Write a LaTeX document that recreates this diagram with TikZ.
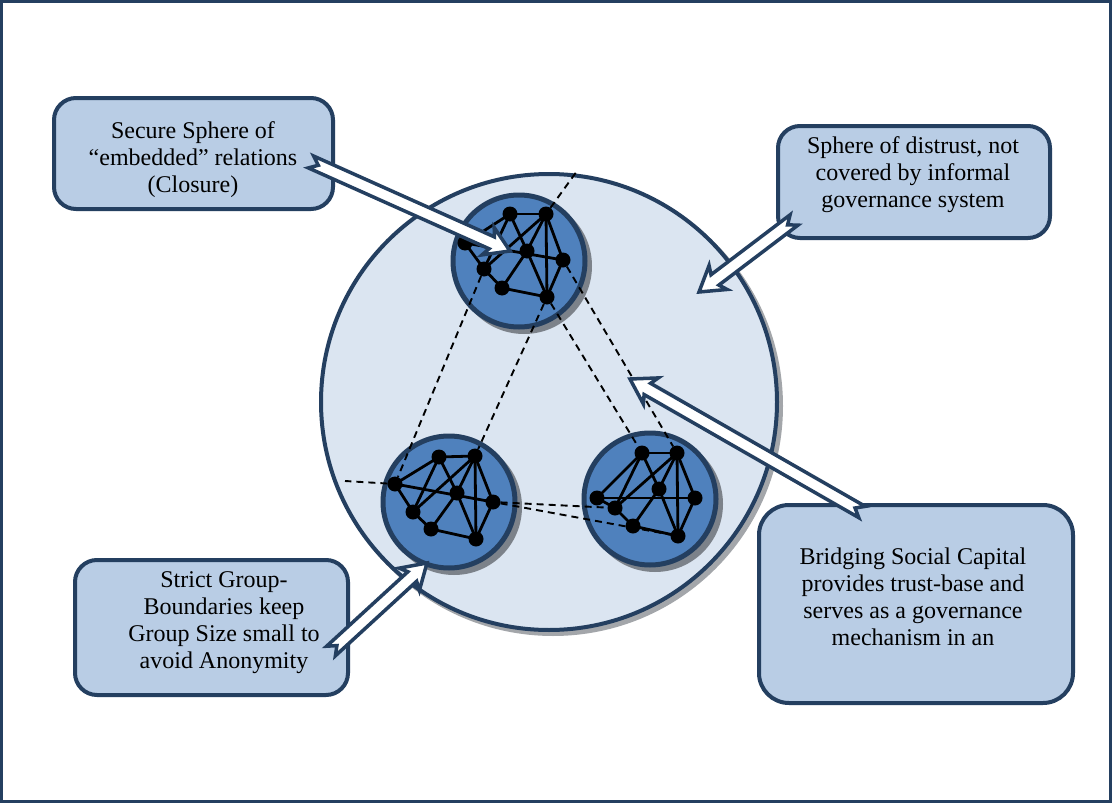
\documentclass[tikz,border=0pt]{standalone}
\usepackage{fontspec}
\setmainfont{Liberation Serif}
\usetikzlibrary{calc}
\definecolor{navy}{HTML}{243F60}
\definecolor{boxfill}{HTML}{B9CDE5}
\definecolor{bigfill}{HTML}{DBE5F1}
\definecolor{smallfill}{HTML}{4F81BD}
\definecolor{shadowgray}{HTML}{7C828A}
\definecolor{bigshadow}{HTML}{A3A6AA}
\newcommand{\notcharrow}[2]{%
  \path ($(#2)!20pt!(#1)$) coordinate (J) ($(#2)!24pt!(#1)$) coordinate (K);
  \draw[blockarrow] ($(#1)!6.5pt!90:(#2)$) -- ($(J)!6.5pt!90:(#2)$) -- ($(K)!15pt!90:(#2)$) -- (#2)
    -- ($(K)!15pt!-90:(#2)$) -- ($(J)!6.5pt!-90:(#2)$) -- ($(#1)!6.5pt!-90:(#2)$) -- ($(#1)!8pt!(#2)$) -- cycle;}
\begin{document}
\begin{tikzpicture}[x=1pt,y=-1pt,
  box/.style={draw=navy, line width=4pt, fill=boxfill, rounded corners=22pt, inner sep=0pt},
  txt/.style={align=center, font=\fontsize{24}{27}\selectfont, inner sep=0pt},
  dot/.style={circle, fill=black, inner sep=0pt, minimum size=15pt},
  edge/.style={line width=2.8pt, black},
  link/.style={line width=1.9pt, black, dash pattern=on 7pt off 5pt},
  blockarrow/.style={draw=navy, fill=white, line width=3.5pt, line join=miter},
  sphere/.style={draw=navy, line width=5pt, fill=smallfill},
]
\useasboundingbox (0,0) rectangle (1112,803);
\fill[white] (0,0) rectangle (1112,803);
\draw[navy, line width=3pt] (1.5,1.5) rectangle (1110.5,801.5);

% big sphere
\fill[bigshadow] (553,406) circle (230);
\draw[navy, line width=4pt, fill=bigfill] (549,402) circle (228);

% small spheres
\foreach \cx/\cy in {519/261, 449/502, 650/499}{
  \fill[shadowgray] (\cx+5,\cy+5) circle (68);
  \draw[sphere] (\cx,\cy) circle (66);
}

% network nodes
\node[dot] (ta) at (510,214) {};
\node[dot] (tb) at (546,214) {};
\node[dot] (tc) at (465,243) {};
\node[dot] (td) at (527,251) {};
\node[dot] (te) at (563,260) {};
\node[dot] (tf) at (484,269) {};
\node[dot] (tg) at (502,288) {};
\node[dot] (th) at (547,297) {};

\node[dot] (la) at (439,457) {};
\node[dot] (lb) at (475,456) {};
\node[dot] (lc) at (395,484) {};
\node[dot] (ld) at (457,493) {};
\node[dot] (le) at (493,502) {};
\node[dot] (lf) at (413,512) {};
\node[dot] (lg) at (431,529) {};
\node[dot] (lh) at (476,539) {};

\node[dot] (ra) at (642,453) {};
\node[dot] (rb) at (677,453) {};
\node[dot] (rc) at (597,498) {};
\node[dot] (rd) at (659,489) {};
\node[dot] (re) at (695,498) {};
\node[dot] (rf) at (615,508) {};
\node[dot] (rg) at (633,526) {};
\node[dot] (rh) at (678,536) {};

\foreach \p in {t,l,r}{
  \foreach \u/\v in {a/b,a/c,a/f,a/d,b/f,b/d,b/h,b/e,c/e,c/f,f/g,g/d,g/h,d/h,e/h}{
    \draw[edge] (\p\u.center) -- (\p\v.center);
  }
}

% dashed links
\coordinate (ext1) at (577,171);
\coordinate (ext2) at (345,481);
\draw[link] (tb) -- (ext1);
\draw[link] (lc) -- (ext2);
\draw[link] (tf) -- (lc);
\draw[link] (th) -- (lb);
\draw[link] (th) -- (ra);
\draw[link] (te) -- (rb);
\draw[link] (le) -- (rf);
\draw[link] (le) -- (rh);

% boxes
\node[box, minimum width=279pt, minimum height=111pt] (b1) at (193.5,153.5) {};
\node[box, minimum width=272pt, minimum height=112pt] (b2) at (914,182) {};
\node[box, minimum width=314pt, minimum height=198pt, rounded corners=30pt] (b3) at (916,604) {};
\node[box, minimum width=273pt, minimum height=135pt] (b4) at (211.5,627.5) {};

\node[txt] (t1) at (193,160) {Secure Sphere of\\“embedded” relations\\(Closure)};
\node[txt] (t2) at (913,175) {Sphere of distrust, not\\covered by informal\\governance system};
\node[txt] (t3) at (913,597) {Bridging Social Capital\\provides trust-base and\\serves as a governance\\mechanism in an};
\node[txt] (t4) at (224,623) {Strict Group-\\Boundaries keep\\Group Size small to\\avoid Anonymity};

% arrows
\coordinate (a1t) at (311,162); \coordinate (a1h) at (510,251);
\coordinate (a2t) at (794,220); \coordinate (a2h) at (699,292);
\coordinate (a3t) at (331,651); \coordinate (a3h) at (427,563);
\coordinate (a4t) at (862,512); \coordinate (a4h) at (630,379);
\notcharrow{a1t}{a1h}
\notcharrow{a2t}{a2h}
\notcharrow{a3t}{a3h}
\notcharrow{a4t}{a4h}
\end{tikzpicture}
\end{document}
